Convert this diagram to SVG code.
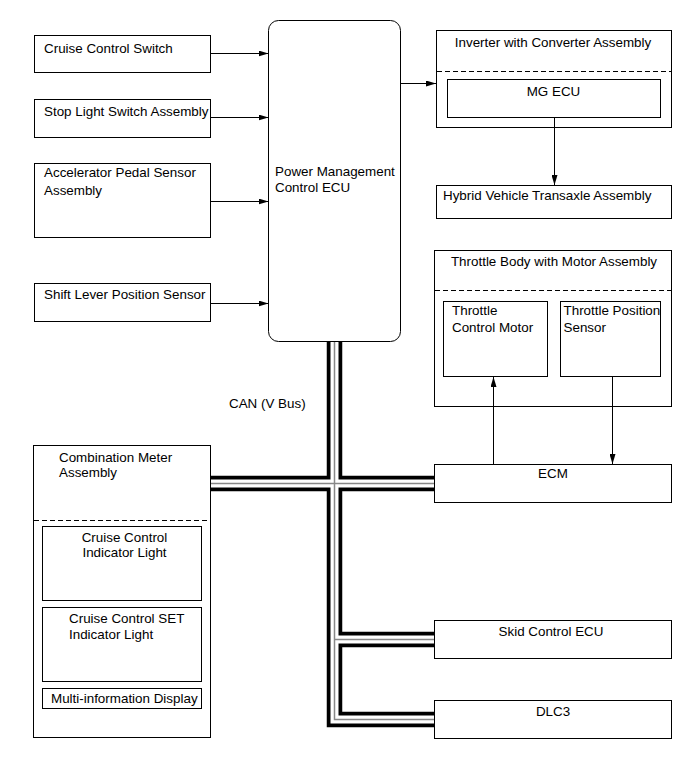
<svg xmlns="http://www.w3.org/2000/svg" width="690" height="759" viewBox="0 0 690 759">
<defs>
<marker id="ah" viewBox="0 0 10 6" refX="10" refY="3" markerWidth="10" markerHeight="6" markerUnits="userSpaceOnUse" orient="auto">
<path d="M0,0 L10,3 L0,6 Z" fill="#000"/>
</marker>
</defs>
<style>
text{font-family:"Liberation Sans",Arial,sans-serif;font-size:13.4px;fill:#000}
.box{fill:#fff;stroke:#000;stroke-width:1}
.dash{stroke:#000;stroke-width:1;stroke-dasharray:5,3;fill:none}
.wire{stroke:#000;stroke-width:1;fill:none;marker-end:url(#ah)}
.bk{stroke:#000;stroke-width:15.5;fill:none;stroke-linejoin:miter}
.wh{stroke:#fff;stroke-width:8;fill:none;stroke-linejoin:miter}
.gr{stroke:#888;stroke-width:1.5;fill:none;stroke-linejoin:miter}
.c{text-anchor:middle}
</style>
<rect width="690" height="759" fill="#fff"/>

<g id="cruise-control-switch">
<rect class="box" x="34.5" y="35.5" width="176" height="37"/>
<text x="44" y="53">Cruise Control Switch</text>
</g>
<g id="stop-light-switch">
<rect class="box" x="34.5" y="99.5" width="176" height="38"/>
<text x="44" y="116">Stop Light Switch Assembly</text>
</g>
<g id="accelerator-pedal-sensor">
<rect class="box" x="34.5" y="163.5" width="176" height="74"/>
<text x="44" y="177">Accelerator Pedal Sensor</text>
<text x="44" y="195">Assembly</text>
</g>
<g id="shift-lever-sensor">
<rect class="box" x="34.5" y="283.5" width="176" height="38"/>
<text x="44" y="299">Shift Lever Position Sensor</text>
</g>

<g id="power-management-ecu">
<rect class="box" x="268.5" y="20.5" width="132" height="321" rx="10" ry="10"/>
<text x="275" y="176">Power Management</text>
<text x="275" y="192">Control ECU</text>
</g>

<g id="inverter-assembly">
<rect class="box" x="436.5" y="30.5" width="235" height="97"/>
<line class="dash" x1="437" y1="71.5" x2="671" y2="71.5"/>
<text class="c" x="553" y="47">Inverter with Converter Assembly</text>
</g>
<g id="mg-ecu">
<rect class="box" x="447.5" y="79.5" width="213" height="38"/>
<text class="c" x="553.5" y="95.5">MG ECU</text>
</g>

<g id="hybrid-transaxle">
<rect class="box" x="436.5" y="185.5" width="235" height="33"/>
<text x="443" y="200">Hybrid Vehicle Transaxle Assembly</text>
</g>

<g id="throttle-body">
<rect class="box" x="434.5" y="250.5" width="237" height="156"/>
<line class="dash" x1="435" y1="290.5" x2="671" y2="290.5"/>
<text class="c" x="554" y="266">Throttle Body with Motor Assembly</text>
</g>
<g id="throttle-control-motor">
<rect class="box" x="443.5" y="301.5" width="104" height="75"/>
<text x="452" y="315">Throttle</text>
<text x="452" y="332">Control Motor</text>
</g>
<g id="throttle-position-sensor">
<rect class="box" x="560.5" y="301.5" width="100" height="75"/>
<text x="563.5" y="315">Throttle Position</text>
<text x="563.5" y="332">Sensor</text>
</g>

<g id="ecm">
<rect class="box" x="434.5" y="464.5" width="237" height="38"/>
<text class="c" x="553" y="478">ECM</text>
</g>
<g id="skid-control-ecu">
<rect class="box" x="434.5" y="620.5" width="237" height="38"/>
<text class="c" x="551" y="636">Skid Control ECU</text>
</g>
<g id="dlc3">
<rect class="box" x="434.5" y="700.5" width="237" height="38"/>
<text class="c" x="553" y="716">DLC3</text>
</g>

<g id="can-label">
<text x="229" y="408">CAN (V Bus)</text>
</g>

<g id="combination-meter">
<rect class="box" x="33.5" y="445.5" width="177" height="292"/>
<line class="dash" x1="34" y1="520.5" x2="210" y2="520.5"/>
<text x="59" y="462">Combination Meter</text>
<text x="59" y="477">Assembly</text>
</g>
<g id="cruise-indicator">
<rect class="box" x="42.5" y="526.5" width="159" height="74"/>
<text class="c" x="124.5" y="542">Cruise Control</text>
<text class="c" x="124.5" y="557">Indicator Light</text>
</g>
<g id="cruise-set-indicator">
<rect class="box" x="42.5" y="607.5" width="159" height="74"/>
<text x="69" y="623">Cruise Control SET</text>
<text x="69" y="638.5">Indicator Light</text>
</g>
<g id="multi-info-display">
<rect class="box" x="42.5" y="688.5" width="159" height="20"/>
<text x="51" y="703">Multi-information Display</text>
</g>

<g id="connectors">
<line class="wire" x1="210.5" y1="53.5" x2="268.5" y2="53.5"/>
<line class="wire" x1="210.5" y1="117.5" x2="268.5" y2="117.5"/>
<line class="wire" x1="210.5" y1="201.5" x2="268.5" y2="201.5"/>
<line class="wire" x1="210.5" y1="303.5" x2="268.5" y2="303.5"/>
<line class="wire" x1="400.5" y1="83.5" x2="436" y2="83.5"/>
<line class="wire" x1="554.5" y1="118" x2="554.5" y2="185"/>
<line class="wire" x1="493.5" y1="464" x2="493.5" y2="377"/>
<line class="wire" x1="612.5" y1="377" x2="612.5" y2="464"/>
<g id="can-bus">
<path class="bk" d="M334.5,342 V719.5 H434 M334.5,639.5 H434 M211,483.5 H434"/>
<path class="wh" d="M334.5,342 V719.5 H434 M334.5,639.5 H434 M211,483.5 H434"/>
<path class="gr" d="M334.5,342 V719.5 H434 M334.5,639.5 H434 M211,483.5 H434"/>
</g>
</g>
</svg>
